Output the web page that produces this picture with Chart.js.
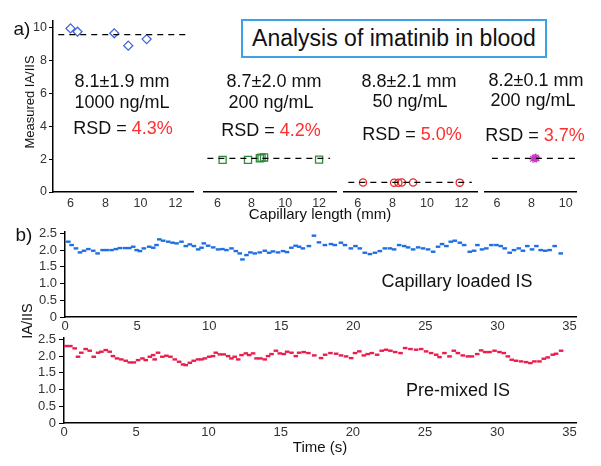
<!DOCTYPE html>
<html>
<head>
<meta charset="utf-8">
<script src="https://cdn.jsdelivr.net/npm/chart.js@4/dist/chart.umd.min.js"></script>
<style>
body { margin: 0; background: #fff; }
#fig { position: relative; width: 601px; height: 466px; overflow: hidden;
       font-family: "Liberation Sans", Arial, sans-serif; color: #111; }
#fig canvas { position: absolute; left: 0; top: 0; }
.lbl { position: absolute; transform: translate(-50%, -50%); white-space: nowrap; line-height: 1; }
.red { color: #ff2f2f; }
.vert { transform: translate(-50%, -50%) rotate(-90deg); }
#titlebox { position: absolute; left: 241px; top: 19px; width: 302px; height: 35px;
            border: 2px solid #3ea2e6; font-size: 23px; line-height: 35px; text-align: center; }
</style>
</head>
<body>
<div id="fig">
  <div id="titlebox">Analysis of imatinib in blood</div>
</div>
<script>
// ---- panel a: capillary length vs measured IA/IIS ----
const aYTicks = [0, 2, 4, 6, 8, 10];

const len1 = [6.0, 6.4, 8.5, 9.3, 10.35];
const ratio1 = [9.95, 9.75, 9.65, 8.9, 9.3];
const mean1 = 9.57;

const len2 = [6.3, 7.8, 8.5, 8.6, 8.75, 12.0];
const ratio2 = [1.95, 1.95, 2.05, 2.08, 2.1, 1.97];
const mean2 = 2.05;

const len3 = [6.3, 8.1, 8.35, 8.55, 9.2, 11.9];
const ratio3 = [0.58, 0.56, 0.56, 0.58, 0.58, 0.57];
const mean3 = 0.58;

const len4 = [8.1, 8.2, 8.3, 8.25];
const ratio4 = [2.02, 2.06, 2.04, 2.1];
const mean4 = 2.05;

// ---- panel b: time traces ----
const bYTicks = [0, 0.5, 1.0, 1.5, 2.0, 2.5];
const bXTicks = [0, 5, 10, 15, 20, 25, 30, 35];

const loadedTime = [0.23, 0.46, 0.76, 1.04, 1.32, 1.62, 1.96, 2.26, 2.61, 2.89, 3.23, 3.53, 3.81, 4.16, 4.46,
  4.73, 4.97, 5.2, 5.47, 5.84, 6.12, 6.35, 6.54, 6.81, 7.16, 7.46, 7.74, 8.08, 8.38, 8.66, 8.94, 9.24, 9.47,
  9.63, 9.93, 10.28, 10.62, 10.92, 11.2, 11.55, 11.85, 12.12, 12.31, 12.59, 12.86, 13.16, 13.51, 13.86, 14.16,
  14.43, 14.78, 15.13, 15.4, 15.7, 16.0, 16.24, 16.5, 16.92, 17.27, 17.62, 18.03, 18.45, 18.72, 19.14, 19.42,
  19.83, 20.15, 20.45, 20.8, 21.15, 21.5, 21.84, 22.19, 22.54, 22.83, 23.18, 23.53, 23.8, 24.15, 24.5, 24.84,
  25.19, 25.54, 25.88, 26.16, 26.46, 26.76, 27.04, 27.39, 27.69, 28.08, 28.38, 28.61, 28.93, 29.23, 29.58,
  29.93, 30.23, 30.5, 30.85, 31.15, 31.48, 31.77, 32.07, 32.4, 32.7, 33.0, 33.32, 33.62, 33.97, 34.39];
const loadedRatio = [2.25, 2.15, 2.05, 1.93, 1.98, 2.03, 1.98, 1.9, 2.0, 2.0, 2.0, 2.03, 2.06, 2.06, 2.06,
  2.1, 2.0, 1.97, 2.05, 2.1, 2.07, 2.15, 2.32, 2.28, 2.25, 2.22, 2.2, 2.25, 2.12, 2.17, 2.12, 2.02, 2.07,
  2.2, 2.13, 2.08, 2.02, 2.03, 2.0, 2.05, 1.97, 1.9, 1.72, 1.85, 1.93, 1.9, 1.93, 1.98, 1.92,
  1.96, 1.93, 1.97, 1.94, 2.07, 2.13, 2.1, 2.05, 2.12, 2.43, 2.23, 2.15, 2.18, 2.15, 2.22, 2.15,
  2.05, 2.12, 2.05, 1.92, 1.88, 1.92, 1.97, 2.05, 2.05, 2.02, 2.15, 2.12, 2.08, 2.02, 2.08, 2.05,
  2.02, 1.95, 2.1, 2.18, 2.12, 2.25, 2.28, 2.22, 2.15, 1.95, 1.98, 2.15, 2.02, 2.05, 2.15,
  2.15, 2.12, 2.05, 1.92, 2.0, 2.05, 1.98, 2.12, 2.02, 2.12, 2.0, 1.98, 2.0, 2.12, 1.9];

const mixedTime = [0.16, 0.44, 0.74, 0.97, 1.2, 1.5, 1.78, 2.06, 2.36, 2.59, 2.89, 3.16, 3.39, 3.67, 3.97,
  4.27, 4.55, 4.83, 5.13, 5.43, 5.66, 5.94, 6.17, 6.28, 6.51, 6.81, 7.09, 7.37, 7.67, 7.97, 8.24, 8.43, 8.71,
  8.98, 9.28, 9.52, 9.75, 10.05, 10.32, 10.51, 10.79, 11.06, 11.36, 11.59, 11.82, 12.06, 12.29, 12.59, 12.82,
  13.09, 13.33, 13.6, 13.9, 14.13, 14.37, 14.67, 14.94, 15.22, 15.45, 15.75, 16.05, 16.28, 16.6, 16.92, 17.33,
  17.8, 18.08, 18.45, 18.84, 19.18, 19.53, 19.88, 20.15, 20.45, 20.76, 21.03, 21.31, 21.68, 22.0, 22.3, 22.6,
  22.93, 23.3, 23.62, 23.99, 24.38, 24.73, 25.07, 25.42, 25.77, 26.0, 26.34, 26.69, 26.99, 27.27, 27.61,
  27.96, 28.24, 28.61, 28.88, 29.16, 29.46, 29.81, 30.15, 30.45, 30.73, 31.0, 31.3, 31.65, 31.99, 32.29,
  32.57, 32.92, 33.22, 33.49, 33.84, 34.07, 34.42];
const mixedRatio = [2.3, 2.3, 2.23, 1.98, 2.1, 2.21, 2.16, 1.98, 2.1, 2.13, 2.18, 2.13, 2.0, 1.93, 1.9,
  1.86, 1.81, 1.81, 1.88, 1.93, 1.88, 1.98, 2.03, 1.9, 2.1, 1.98, 2.01, 1.98, 1.9, 1.83, 1.75, 1.73, 1.8,
  1.86, 1.9, 1.9, 1.93, 1.98, 2.0, 2.1, 2.05, 2.05, 2.0, 1.93, 1.98, 1.9, 2.03, 2.08, 2.03,
  2.08, 1.93, 1.93, 1.9, 2.0, 2.06, 2.16, 2.08, 2.06, 2.13, 2.1, 2.0, 2.1, 2.12, 2.09, 2.02,
  1.94, 2.04, 2.09, 2.07, 2.02, 1.99, 1.94, 2.09, 2.14, 2.02, 2.06, 2.09, 2.04, 2.16, 2.19, 2.16,
  2.12, 2.09, 2.24, 2.21, 2.19, 2.21, 2.14, 2.09, 2.04, 1.97, 2.09, 1.99, 2.16, 2.09, 2.02,
  1.99, 1.99, 2.06, 2.17, 2.12, 2.12, 2.16, 2.12, 2.09, 1.99, 1.89, 1.86, 1.84, 1.82, 1.79,
  1.84, 1.84, 1.92, 1.96, 2.04, 2.07, 2.16];

const fig = document.getElementById('fig');
const tickFont = { family: '"Liberation Sans", Arial, sans-serif', size: 12.5 };

function makeCanvas() {
  const c = document.createElement('canvas');
  c.width = 601; c.height = 466;
  fig.appendChild(c);
  return c;
}

function addText(html, x, y, size, cls) {
  const d = document.createElement('div');
  d.className = 'lbl' + (cls ? ' ' + cls : '');
  d.style.left = x + 'px';
  d.style.top = y + 'px';
  d.style.fontSize = size + 'px';
  d.innerHTML = html;
  fig.appendChild(d);
}

function fixTicks(list) {
  return s => { s.ticks = list.map(v => ({ value: v })); };
}

// one small scatter plot of panel a
function capillaryPlot(p) {
  const points = p.xs.map((x, i) => ({ x: x, y: p.ys[i] }));
  new Chart(makeCanvas(), {
    type: 'scatter',
    data: {
      datasets: [
        {
          data: [{ x: p.lineFrom, y: p.level }, { x: p.lineTo, y: p.level }],
          showLine: true, borderColor: '#000', borderWidth: 1.3, borderDash: [6, 5],
          pointRadius: 0, order: 0
        },
        {
          data: points, pointStyle: p.marker, pointRadius: p.radius,
          pointBorderColor: p.color, pointBackgroundColor: 'rgba(0,0,0,0)',
          pointBorderWidth: 1.3, order: 1
        }
      ]
    },
    options: {
      responsive: false, animation: false, devicePixelRatio: 1,
      layout: { padding: { left: p.left, right: 601 - p.right, top: 21, bottom: 244 } },
      plugins: { legend: { display: false }, tooltip: { enabled: false } },
      scales: {
        x: {
          type: 'linear', min: p.xMin, max: p.xMax,
          afterBuildTicks: fixTicks(p.ticks),
          afterFit: s => { s.height = 30; },
          grid: { drawOnChartArea: false, drawTicks: false },
          border: { color: '#000', width: 1.5 },
          ticks: { font: tickFont, color: '#333', padding: 4, autoSkip: false, maxRotation: 0 }
        },
        y: {
          display: p.showY, min: 0, max: 10.4,
          afterBuildTicks: fixTicks(aYTicks),
          afterFit: s => { s.width = p.showY ? 53 : 0; },
          grid: { drawOnChartArea: false, tickLength: 4, color: '#000' },
          border: { color: '#000', width: 1.5 },
          ticks: { font: tickFont, color: '#333', padding: 2, autoSkip: false }
        }
      }
    }
  });
}

capillaryPlot({ xs: len1, ys: ratio1, level: mean1, lineFrom: 5.3, lineTo: 12.8, xMin: 5, xMax: 13,
  ticks: [6, 8, 10, 12], left: 0, right: 193, showY: true, marker: 'rectRot', radius: 4.5, color: '#3f63dc' });
capillaryPlot({ xs: len2, ys: ratio2, level: mean2, lineFrom: 5.4, lineTo: 12.65, xMin: 5.2, xMax: 13,
  ticks: [6, 8, 10, 12], left: 204, right: 336, showY: false, marker: 'rect', radius: 5, color: '#2e8b3a' });
capillaryPlot({ xs: len3, ys: ratio3, level: mean3, lineFrom: 5.45, lineTo: 12.6, xMin: 5.2, xMax: 12.9,
  ticks: [6, 8, 10, 12], left: 344, right: 477, showY: false, marker: 'circle', radius: 3.6, color: '#e42a2a' });
capillaryPlot({ xs: len4, ys: ratio4, level: mean4, lineFrom: 5.7, lineTo: 10.55, xMin: 5.3, xMax: 10.6,
  ticks: [6, 8, 10], left: 485, right: 576, showY: false, marker: 'star', radius: 4, color: '#c838c8' });

// one time trace of panel b
function tracePlot(p) {
  const points = p.ts.map((t, i) => ({ x: t, y: p.vs[i] }));
  new Chart(makeCanvas(), {
    type: 'scatter',
    data: {
      datasets: [{
        data: points, pointStyle: 'line', pointRadius: 2.3,
        pointBorderColor: p.color, pointBorderWidth: 2.4
      }]
    },
    options: {
      responsive: false, animation: false, devicePixelRatio: 1,
      layout: { padding: { left: 0, right: 25, top: p.top, bottom: p.bottom } },
      plugins: { legend: { display: false }, tooltip: { enabled: false } },
      scales: {
        x: {
          type: 'linear', min: 0, max: 35.45,
          afterBuildTicks: fixTicks(bXTicks),
          afterFit: s => { s.height = 20; },
          grid: { drawOnChartArea: false, drawTicks: false },
          border: { color: '#000', width: 1.5 },
          ticks: { font: { family: tickFont.family, size: 13 }, color: '#333', padding: 2,
                   autoSkip: false, maxRotation: 0 }
        },
        y: {
          min: 0, max: 2.54,
          afterBuildTicks: fixTicks(bYTicks),
          afterFit: s => { s.width = p.yWidth; },
          grid: { drawOnChartArea: false, tickLength: 5, color: '#000' },
          border: { color: '#000', width: 1.5 },
          ticks: { font: { family: tickFont.family, size: 13 }, color: '#333', padding: 3, autoSkip: false,
                   callback: v => v === 0 ? '0' : v.toFixed(1) }
        }
      }
    }
  });
}

tracePlot({ ts: loadedTime, vs: loadedRatio, color: '#1f6fe3', top: 232, bottom: 129, yWidth: 65 });
tracePlot({ ts: mixedTime, vs: mixedRatio, color: '#ea1d4d', top: 338, bottom: 23, yWidth: 64 });

// ---- text ----
addText('a)', 22, 28, 19);
addText('b)', 24, 234, 19);
addText('Measured IA/IIS', 29, 102, 13, 'vert');
addText('Capillary length (mm)', 320, 213, 15);
addText('IA/IIS', 27, 321, 14.5, 'vert');
addText('Time (s)', 320, 446, 15);

addText('8.1±1.9 mm', 122, 81, 18);
addText('1000 ng/mL', 122, 102, 18);
addText('RSD = <span class="red">4.3%</span>', 123, 128, 18);
addText('8.7±2.0 mm', 274, 81, 18);
addText('200 ng/mL', 271, 102, 18);
addText('RSD = <span class="red">4.2%</span>', 271, 130, 18);
addText('8.8±2.1 mm', 409, 81, 18);
addText('50 ng/mL', 410, 101, 18);
addText('RSD = <span class="red">5.0%</span>', 412, 134, 18);
addText('8.2±0.1 mm', 536, 80, 18);
addText('200 ng/mL', 533, 100, 18);
addText('RSD = <span class="red">3.7%</span>', 535, 135, 18);

addText('Capillary loaded IS', 457, 281, 18);
addText('Pre-mixed IS', 458, 390, 18);
</script>
</body>
</html>
